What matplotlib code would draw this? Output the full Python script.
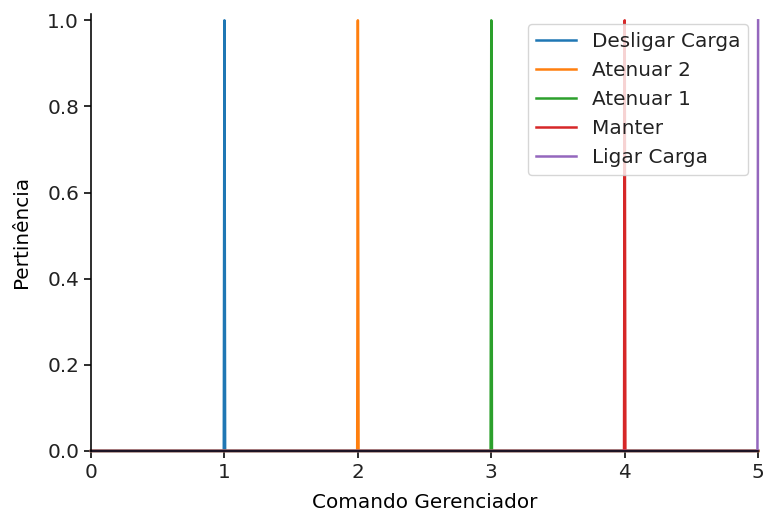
import numpy as np
import matplotlib.pyplot as plt

# universo do comando e funções de pertinência (triangulares bem estreitas)
universe = np.arange(0, 5.0005, 0.005)
labels = ["Desligar Carga", "Atenuar 2", "Atenuar 1", "Manter", "Ligar Carga"]
abc = [
    [0.995, 1.0, 1.005],
    [1.995, 2.0, 2.005],
    [2.995, 3.0, 3.005],
    [3.995, 4.0, 4.005],
    [4.995, 5.0, 5.0],
]


def trimf(x, p):
    a, b, c = p
    y = np.zeros_like(x)
    if b > a:
        m = (x > a) & (x < b)
        y[m] = (x[m] - a) / (b - a)
    if c > b:
        m = (x > b) & (x < c)
        y[m] = (c - x[m]) / (c - b)
    y[np.isclose(x, b)] = 1.0
    return y


s = 1.44  # imagem original em escala maior
plt.rcParams["font.size"] = 10 * s
plt.rcParams["axes.linewidth"] = 0.8 * s
plt.rcParams["xtick.major.size"] = 3.5 * s
plt.rcParams["ytick.major.size"] = 3.5 * s
plt.rcParams["xtick.major.width"] = 0.8 * s
plt.rcParams["ytick.major.width"] = 0.8 * s
plt.rcParams["legend.fontsize"] = 10 * s
plt.rcParams["text.color"] = "#222222"
plt.rcParams["xtick.labelcolor"] = "#222222"
plt.rcParams["ytick.labelcolor"] = "#222222"

fig, ax = plt.subplots(figsize=(7.65, 5.13), dpi=100)

for lab, p in zip(labels, abc):
    ax.plot(universe, trimf(universe, p), linewidth=1.8, label=lab, clip_on=False)

ax.set_xlim(0, 5)
ax.set_ylim(0, 1.015)
ax.set_xlabel("Comando Gerenciador", labelpad=8)
ax.set_ylabel("Pertinência", labelpad=12)
ax.spines["top"].set_visible(False)
ax.spines["right"].set_visible(False)
ax.legend(loc="upper right")

plt.subplots_adjust(left=0.119, right=0.991, top=0.973, bottom=0.121)
plt.savefig("out.png")
